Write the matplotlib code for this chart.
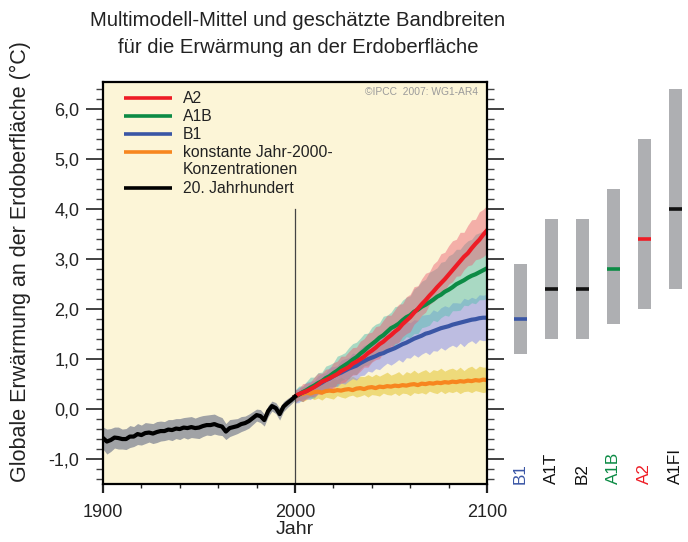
import numpy as np
import matplotlib
matplotlib.use("Agg")
import matplotlib.pyplot as plt
from matplotlib.ticker import MultipleLocator, FixedLocator, FuncFormatter

plt.rcParams['font.family'] = ['Liberation Sans', 'DejaVu Sans']

# ---- data ----
hist_years = np.arange(1900, 2001, 2)
hist_mean = [-0.58, -0.65, -0.62, -0.57, -0.58, -0.60, -0.60, -0.55, -0.55, -0.50,
             -0.52, -0.48, -0.47, -0.49, -0.46, -0.44, -0.44, -0.41, -0.42, -0.39,
             -0.40, -0.37, -0.38, -0.36, -0.38, -0.37, -0.34, -0.32, -0.32, -0.30,
             -0.33, -0.35, -0.45, -0.38, -0.36, -0.34, -0.30, -0.28, -0.24, -0.18,
             -0.12, -0.14, -0.22, -0.04, 0.06, 0.02, -0.10, 0.05, 0.12, 0.18,
             0.25]
hist_spread = [0.22, 0.25, 0.23, 0.21, 0.22, 0.20, 0.21, 0.22, 0.20, 0.21,
               0.20, 0.21, 0.19, 0.20, 0.21, 0.20, 0.19, 0.20, 0.21, 0.20,
               0.21, 0.20, 0.22, 0.21, 0.20, 0.22, 0.21, 0.20, 0.21, 0.20,
               0.19, 0.18, 0.16, 0.17, 0.16, 0.15, 0.15, 0.14, 0.14, 0.13,
               0.12, 0.13, 0.12, 0.11, 0.10, 0.11, 0.12, 0.10, 0.09, 0.08,
               0.07]

proj_years = np.arange(2000, 2101, 2)
a2_mean = [0.25, 0.30, 0.33, 0.36, 0.40, 0.44, 0.49, 0.55, 0.58, 0.62,
           0.66, 0.70, 0.76, 0.80, 0.84, 0.91, 0.95, 1.00, 1.05, 1.12,
           1.17, 1.23, 1.30, 1.35, 1.42, 1.48, 1.55, 1.61, 1.70, 1.77,
           1.84, 1.93, 2.01, 2.10, 2.18, 2.27, 2.35, 2.44, 2.52, 2.60,
           2.69, 2.78, 2.87, 2.96, 3.05, 3.12, 3.22, 3.31, 3.39, 3.49,
           3.58]
a1b_mean = [0.25, 0.29, 0.34, 0.38, 0.43, 0.47, 0.52, 0.56, 0.62, 0.66,
            0.72, 0.77, 0.83, 0.88, 0.93, 0.99, 1.04, 1.11, 1.17, 1.24,
            1.30, 1.36, 1.43, 1.48, 1.55, 1.62, 1.66, 1.71, 1.78, 1.84,
            1.88, 1.95, 1.99, 2.05, 2.09, 2.14, 2.19, 2.25, 2.29, 2.35,
            2.39, 2.44, 2.50, 2.54, 2.58, 2.63, 2.67, 2.70, 2.74, 2.78,
            2.82]
b1_mean = [0.25, 0.29, 0.33, 0.36, 0.41, 0.45, 0.49, 0.53, 0.58, 0.61,
           0.66, 0.70, 0.73, 0.77, 0.81, 0.84, 0.87, 0.92, 0.96, 1.00,
           1.03, 1.06, 1.10, 1.12, 1.16, 1.19, 1.22, 1.26, 1.30, 1.33,
           1.37, 1.41, 1.44, 1.47, 1.51, 1.53, 1.56, 1.59, 1.62, 1.64,
           1.66, 1.69, 1.71, 1.73, 1.75, 1.77, 1.79, 1.80, 1.82, 1.83,
           1.83]
commit_mean = [0.25, 0.29, 0.30, 0.33, 0.31, 0.34, 0.35, 0.33, 0.36, 0.37,
               0.36, 0.38, 0.37, 0.39, 0.40, 0.38, 0.41, 0.42, 0.40, 0.43,
               0.44, 0.42, 0.45, 0.44, 0.46, 0.45, 0.47, 0.46, 0.48, 0.47,
               0.49, 0.50, 0.48, 0.51, 0.50, 0.52, 0.51, 0.53, 0.52, 0.54,
               0.53, 0.55, 0.54, 0.56, 0.55, 0.57, 0.56, 0.58, 0.57, 0.59,
               0.58]

# +/- one standard deviation ranges of the model spread
a2_low = [0.12, 0.18, 0.15, 0.21, 0.26, 0.24, 0.30, 0.29, 0.38, 0.39,
          0.40, 0.51, 0.52, 0.54, 0.62, 0.68, 0.69, 0.76, 0.84, 0.84,
          0.94, 0.99, 1.01, 1.13, 1.14, 1.19, 1.31, 1.33, 1.45, 1.51,
          1.55, 1.70, 1.77, 1.88, 1.94, 2.09, 2.15, 2.21, 2.34, 2.37,
          2.50, 2.55, 2.66, 2.67, 2.79, 2.87, 2.89, 2.99, 3.01, 3.05,
          3.12]
a2_high = [0.38, 0.41, 0.51, 0.52, 0.54, 0.64, 0.72, 0.72, 0.80, 0.81,
           0.93, 0.96, 1.06, 1.06, 1.15, 1.23, 1.24, 1.36, 1.41, 1.52,
           1.54, 1.65, 1.67, 1.78, 1.88, 1.88, 1.99, 2.10, 2.11, 2.25,
           2.30, 2.45, 2.47, 2.61, 2.72, 2.75, 2.90, 2.97, 3.11, 3.14,
           3.27, 3.37, 3.40, 3.54, 3.54, 3.68, 3.79, 3.80, 3.95, 4.00,
           4.08]
a1b_low = [0.12, 0.17, 0.15, 0.23, 0.22, 0.22, 0.31, 0.34, 0.35, 0.45,
           0.45, 0.47, 0.57, 0.60, 0.61, 0.70, 0.69, 0.80, 0.87, 0.88,
           0.95, 1.05, 1.04, 1.15, 1.18, 1.28, 1.25, 1.35, 1.37, 1.45,
           1.43, 1.51, 1.51, 1.63, 1.65, 1.68, 1.78, 1.75, 1.83, 1.88,
           1.86, 1.97, 1.97, 1.98, 2.08, 2.07, 2.13, 2.11, 2.19, 2.19,
           2.22]
a1b_high = [0.38, 0.46, 0.47, 0.55, 0.64, 0.64, 0.73, 0.74, 0.86, 0.89,
            0.93, 1.06, 1.09, 1.13, 1.23, 1.31, 1.34, 1.42, 1.51, 1.52,
            1.64, 1.70, 1.73, 1.86, 1.88, 1.94, 2.05, 2.07, 2.18, 2.24,
            2.27, 2.41, 2.46, 2.56, 2.60, 2.74, 2.78, 2.83, 2.94, 2.96,
            3.07, 3.11, 3.20, 3.20, 3.30, 3.37, 3.40, 3.50, 3.53, 3.57,
            3.65]
b1_low = [0.12, 0.13, 0.20, 0.20, 0.19, 0.27, 0.32, 0.31, 0.36, 0.36,
          0.45, 0.45, 0.52, 0.50, 0.56, 0.61, 0.58, 0.67, 0.68, 0.76,
          0.74, 0.81, 0.79, 0.86, 0.92, 0.88, 0.93, 0.99, 0.94, 1.03,
          1.02, 1.09, 1.04, 1.10, 1.14, 1.09, 1.17, 1.16, 1.23, 1.18,
          1.24, 1.28, 1.24, 1.32, 1.25, 1.33, 1.37, 1.31, 1.39, 1.37,
          1.38]
b1_high = [0.38, 0.44, 0.45, 0.54, 0.56, 0.57, 0.67, 0.71, 0.73, 0.84,
           0.85, 0.87, 0.98, 1.01, 1.03, 1.12, 1.11, 1.21, 1.28, 1.28,
           1.35, 1.43, 1.40, 1.49, 1.50, 1.58, 1.55, 1.65, 1.67, 1.75,
           1.73, 1.79, 1.78, 1.88, 1.89, 1.90, 1.99, 1.95, 2.03, 2.07,
           2.04, 2.13, 2.13, 2.12, 2.22, 2.19, 2.24, 2.21, 2.29, 2.28,
           2.30]
commit_low = [0.15, 0.19, 0.15, 0.19, 0.23, 0.19, 0.22, 0.18, 0.24, 0.22,
              0.20, 0.27, 0.24, 0.22, 0.26, 0.28, 0.24, 0.26, 0.29, 0.24,
              0.29, 0.28, 0.26, 0.32, 0.29, 0.28, 0.32, 0.27, 0.32, 0.31,
              0.27, 0.33, 0.31, 0.33, 0.30, 0.36, 0.33, 0.31, 0.36, 0.31,
              0.35, 0.33, 0.36, 0.31, 0.35, 0.36, 0.33, 0.37, 0.35, 0.33,
              0.35]
commit_high = [0.35, 0.36, 0.45, 0.45, 0.46, 0.54, 0.57, 0.53, 0.57, 0.54,
               0.61, 0.59, 0.64, 0.59, 0.63, 0.66, 0.61, 0.66, 0.65, 0.69,
               0.65, 0.70, 0.66, 0.70, 0.74, 0.68, 0.71, 0.75, 0.68, 0.75,
               0.72, 0.78, 0.72, 0.76, 0.79, 0.73, 0.79, 0.77, 0.82, 0.76,
               0.80, 0.82, 0.78, 0.84, 0.77, 0.83, 0.86, 0.80, 0.86, 0.84,
               0.84]

# likely ranges for 2090-2099 (bars on the right)
scenarios = ['B1', 'A1T', 'B2', 'A1B', 'A2', 'A1FI']
range_low = [1.1, 1.4, 1.4, 1.7, 2.0, 2.4]
range_high = [2.9, 3.8, 3.8, 4.4, 5.4, 6.4]
best_est = [1.8, 2.4, 2.4, 2.8, 3.4, 4.0]
scen_colors = ['#3a56a5', '#111111', '#111111', '#0c8b45', '#ee1c25', '#111111']

RED, GREEN, BLUE, ORANGE = '#ee1c25', '#0c8b45', '#3a56a5', '#f7861f'
BG = '#fcf5d7'

fig = plt.figure(figsize=(6.88, 5.42), dpi=100)
ax = fig.add_axes([103 / 688, 58 / 542, 384 / 688, 402 / 542])
ax.set_facecolor(BG)

hist_mean_a = np.array(hist_mean)
hist_spread_a = np.array(hist_spread)
ax.fill_between(hist_years, hist_mean_a - hist_spread_a, hist_mean_a + hist_spread_a,
                color='#a0a2a5', lw=0)
ax.fill_between(proj_years, commit_low, commit_high, color='#e6c83c', alpha=0.6, lw=0)
ax.fill_between(proj_years, b1_low, b1_high, color='#8087eb', alpha=0.5, lw=0)
ax.fill_between(proj_years, a1b_low, a1b_high, color='#58bfb1', alpha=0.5, lw=0)
ax.fill_between(proj_years, a2_low, a2_high, color='#ec5a70', alpha=0.45, lw=0)

ax.plot([2000, 2000], [-1.5, 4.0], color='#444444', lw=0.9)

ax.plot(proj_years, commit_mean, color=ORANGE, lw=3)
ax.plot(proj_years, b1_mean, color=BLUE, lw=3)
ax.plot(proj_years, a1b_mean, color=GREEN, lw=3)
ax.plot(proj_years, a2_mean, color=RED, lw=3)
ax.plot(hist_years, hist_mean, color='black', lw=3)

ax.set_xlim(1900, 2100)
ax.set_ylim(-1.5, 6.55)

ax.xaxis.set_major_locator(FixedLocator([1900, 2000, 2100]))
ax.xaxis.set_minor_locator(MultipleLocator(20))
ax.yaxis.set_major_locator(MultipleLocator(1))
ax.yaxis.set_minor_locator(MultipleLocator(0.2))
ax.yaxis.set_major_formatter(FuncFormatter(lambda v, p: f"{v:.1f}".replace('.', ',')))

ax.tick_params(axis='y', which='major', direction='out', length=12, width=1.2,
               labelsize=13, pad=5, right=True, colors='#222222')
ax.tick_params(axis='y', which='minor', direction='out', length=5, width=1.0,
               right=True, colors='#444444')
ax.tick_params(axis='x', which='major', direction='out', length=6.5, width=1.6,
               labelsize=13, pad=8, colors='#222222')
ax.tick_params(axis='x', which='minor', direction='out', length=3, width=1.0,
               colors='#222222')
for s in ax.spines.values():
    s.set_linewidth(1.6)
    s.set_color('black')

ax.set_xlabel('Jahr', fontsize=14, color='#222222', labelpad=0)
fig.text(20 / 688, 1 - 262 / 542, 'Globale Erwärmung an der Erdoberfläche (°C)',
         rotation=90, ha='center', va='center', fontsize=15.5, color='#222222')

fig.text(298 / 688, 1 - 34 / 542,
         'Multimodell-Mittel und geschätzte Bandbreiten\nfür die Erwärmung an der Erdoberfläche',
         ha='center', va='center', fontsize=14.6, linespacing=1.5, color='#222222')

# legend drawn by hand so the two-line entry lines up with its first line
legend_items = [('A2', RED), ('A1B', GREEN), ('B1', BLUE),
                ('konstante Jahr-2000-', ORANGE), ('20. Jahrhundert', 'black')]
legend_rows = [98, 116, 134, 152, 188]
for (label, col), ypix in zip(legend_items, legend_rows):
    yf = 1 - (ypix - 82) / 402
    ax.plot([21 / 384, 69 / 384], [yf, yf], transform=ax.transAxes, color=col, lw=2.6,
            solid_capstyle='butt')
    ax.text(80 / 384, yf, label, transform=ax.transAxes, ha='left', va='center',
            fontsize=11.3, color='#222222')
ax.text(80 / 384, 1 - (169 - 82) / 402, 'Konzentrationen', transform=ax.transAxes,
        ha='left', va='center', fontsize=11.3, color='#222222')
ax.text(375 / 384, 1 - (92 - 82) / 402, '©IPCC  2007: WG1-AR4', transform=ax.transAxes,
        ha='right', va='center', fontsize=7.4, color='#9a9a9a')

# bars for the likely ranges at the end of the century
ax2 = fig.add_axes([505 / 688, 58 / 542, 183 / 688, 402 / 542])
ax2.set_xlim(-0.5, 5.403)
ax2.set_ylim(-1.5, 6.55)
ax2.axis('off')
xs = np.arange(len(scenarios))
bar_w = 0.42
ax2.bar(xs, np.array(range_high) - np.array(range_low), bottom=range_low,
        width=bar_w, color='#aeafb2')
ax2.hlines(best_est, xs - bar_w / 2, xs + bar_w / 2, colors=scen_colors, lw=2.6)
for x, name, col in zip(xs, scenarios, scen_colors):
    ax2.text(x, -1.5, name, rotation=90, ha='center', va='bottom', fontsize=12.3,
             color=col)

fig.savefig('out.png', dpi=100)
